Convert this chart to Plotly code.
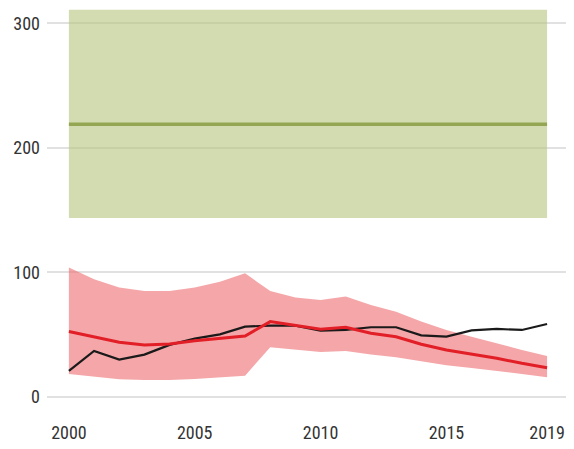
import plotly.graph_objects as go

years = list(range(2000, 2020))

green_low = [143.8] * 20
green_high = [311] * 20
green_mid = [219] * 20

red_upper = [104, 94.5, 88, 85, 85, 88, 92.6, 99.3, 85, 79.8, 77.9, 80.6, 73.9, 68.5, 60.5, 53.8, 48.4, 43, 37.7, 32.9]
red_lower = [18.5, 16.3, 14.2, 13.7, 13.7, 14.5, 15.5, 17.1, 39.9, 37.7, 36.1, 36.9, 34, 31.9, 28.4, 25.5, 23.3, 21.1, 18.5, 15.8]
red_line = [52.5, 47.9, 43.9, 41.8, 42.6, 45.2, 47.1, 49, 60.5, 57.3, 54.4, 56, 51.2, 48.4, 42.3, 37.7, 34.5, 31, 27, 23.5]
black_line = [21, 37, 30, 34, 41.8, 46.8, 50.3, 56.5, 57.3, 57.3, 53.3, 53.8, 56, 56, 49.5, 48.4, 53.5, 54.6, 53.8, 58.6]

x_ticks = [2000, 2005, 2010, 2015, 2019]
y_ticks = [0, 100, 200, 300]

fig = go.Figure()
fig.add_trace(go.Scatter(x=years, y=green_low, mode="lines", line=dict(width=0, color="rgba(0,0,0,0)"), showlegend=False, hoverinfo="skip"))
fig.add_trace(go.Scatter(x=years, y=green_high, mode="lines", line=dict(width=0, color="rgba(0,0,0,0)"), fill="tonexty", fillcolor="rgba(182,197,123,0.6)", showlegend=False, hoverinfo="skip"))
fig.add_trace(go.Scatter(x=years, y=green_mid, mode="lines", line=dict(width=3.5, color="rgb(148,166,82)"), showlegend=False))

fig.add_trace(go.Scatter(x=years, y=red_lower, mode="lines", line=dict(width=0, color="rgba(0,0,0,0)"), showlegend=False, hoverinfo="skip"))
fig.add_trace(go.Scatter(x=years, y=red_upper, mode="lines", line=dict(width=0, color="rgba(0,0,0,0)"), fill="tonexty", fillcolor="rgba(237,107,110,0.6)", showlegend=False, hoverinfo="skip"))
fig.add_trace(go.Scatter(x=years, y=black_line, mode="lines", line=dict(width=2.2, color="#1a1a1a"), showlegend=False))
fig.add_trace(go.Scatter(x=years, y=red_line, mode="lines", line=dict(width=3, color="rgb(226,30,38)"), showlegend=False))

font_family = "Liberation Sans Narrow, Roboto Condensed, Arial Narrow, Roboto, sans-serif"

fig.update_layout(
    width=566, height=441,
    margin=dict(l=39, r=0, t=0, b=34),
    plot_bgcolor="white", paper_bgcolor="white",
    font=dict(family=font_family, size=18, color="#333333"),
    xaxis=dict(range=[1999.13, 2020.07], tickvals=x_ticks, ticktext=[str(v) for v in x_ticks],
               showgrid=False, zeroline=False, showline=False, ticks="", ticklabelstandoff=5),
    yaxis=dict(range=[-14.5, 312.4], tickvals=y_ticks, ticktext=[str(v) for v in y_ticks],
               showgrid=True, gridcolor="#e1e1e1", gridwidth=1.5, zeroline=False, showline=False, ticks="", ticklabelstandoff=6),
)

fig.write_html("out.html")
